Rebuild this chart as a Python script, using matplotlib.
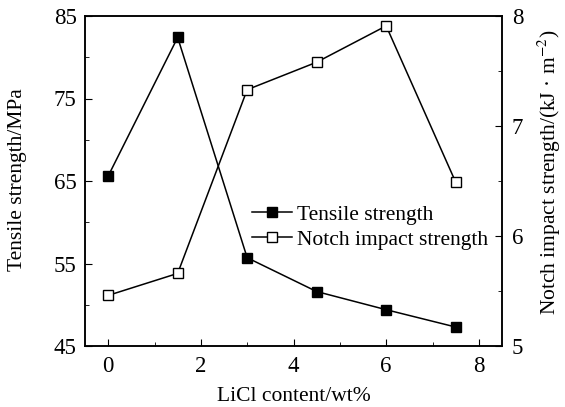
import matplotlib
matplotlib.use("Agg")
import matplotlib.pyplot as plt
from matplotlib.ticker import MultipleLocator, FixedLocator

# LiCl content (wt%) and measured properties
licl = [0, 1.5, 3, 4.5, 6, 7.5]
tensile = [65.6, 82.4, 55.7, 51.6, 49.4, 47.3]          # MPa
notch_impact = [5.46, 5.66, 7.33, 7.58, 7.91, 6.49]    # kJ/m^2

left_ticks = [45, 55, 65, 75, 85]
left_minor = [50, 60, 70, 80]

plt.rcParams['font.family'] = ['Liberation Serif', 'DejaVu Serif']
plt.rcParams['mathtext.fontset'] = 'stix'

fig = plt.figure(figsize=(5.65, 4.07), dpi=100)
ax = fig.add_axes([85 / 565, 1 - 346 / 407, 417 / 565, 330 / 407])
ax2 = ax.twinx()

l1, = ax.plot(licl, tensile, color='black', lw=1.1, marker='s', ms=6.5,
              mfc='black', mec='black', label='Tensile strength')
l2, = ax2.plot(licl, notch_impact, color='black', lw=1.1, marker='s', ms=6.5,
               mfc='white', mec='black', mew=1.0, label='Notch impact strength')

ax.set_xlim(-0.5, 8.5)
ax.set_ylim(45, 85)
ax2.set_ylim(5, 8)
ax.xaxis.set_major_locator(MultipleLocator(2))
ax.xaxis.set_minor_locator(MultipleLocator(1))
ax.yaxis.set_major_locator(FixedLocator(left_ticks))
ax.yaxis.set_minor_locator(FixedLocator(left_minor))
ax2.yaxis.set_major_locator(MultipleLocator(1))
ax2.yaxis.set_minor_locator(MultipleLocator(0.5))

for a in (ax, ax2):
    a.tick_params(which='both', direction='in', labelsize=16.5)
    a.tick_params(which='major', length=5)
    a.tick_params(which='minor', length=3)
    for s in a.spines.values():
        s.set_linewidth(1.1)
ax.tick_params(axis='x', pad=7)
ax.tick_params(axis='y', which='both', right=False, pad=6)
ax2.tick_params(axis='y', pad=7)

ax.set_xlabel('LiCl content/wt%', fontsize=15.5)
ax.set_ylabel('Tensile strength/MPa', fontsize=15.5)
ax2.set_ylabel('Notch impact strength/(kJ \u00b7 m$^{-2}$)', fontsize=15.5)
ax.xaxis.set_label_coords(0.5, -0.125)
ax.yaxis.set_label_coords(-0.14, 0.503)
ax2.yaxis.set_label_coords(1.08, 0.527)

ax.legend(handles=[l1, l2], loc='center left', bbox_to_anchor=(0.40, 0.36),
          frameon=False, fontsize=15.5, handlelength=1.86, handletextpad=0.23,
          labelspacing=0.25, borderaxespad=0, borderpad=0)

fig.savefig('out.png', dpi=100)
